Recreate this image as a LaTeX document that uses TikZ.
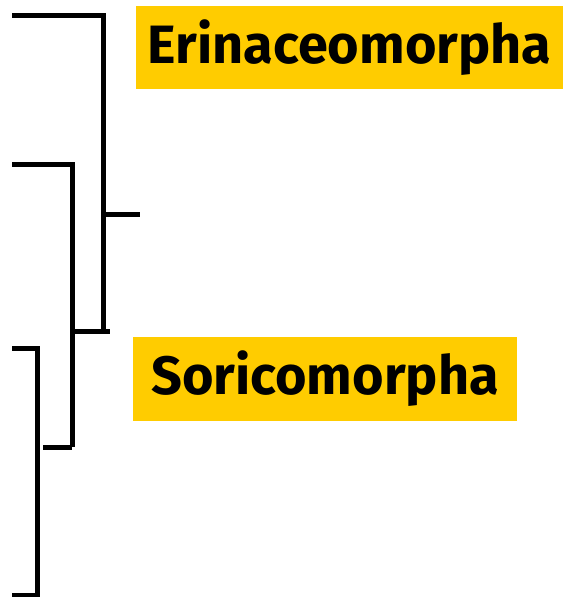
\documentclass[tikz,border=0pt]{standalone}
\usepackage{fontspec}
\setmainfont{Fira Sans}
\usepackage{tikz}
\usetikzlibrary{positioning}
\definecolor{taxonyellow}{HTML}{FFCC00}

\begin{document}
\begin{tikzpicture}[x=1pt,y=-1pt]
		\tikzset{
			taxon/.style={fill=taxonyellow,text=black,inner sep=0pt,font=\fontsize{54}{60}\selectfont\bfseries},
		}
		\tikzset{
			branch/.style={color=black,line width=5pt},
		}
		\useasboundingbox (0,0) rectangle (563,597);
		
		\node[taxon,minimum width=427pt,minimum height=83pt] (erin) at (349.5,47.5) {Erinaceomorpha};
		\node[taxon,minimum width=384pt,minimum height=84pt] (soric) at (325,379) {Soricomorpha};
		
		\coordinate (a1) at (12,15);
		\coordinate (a2) at (103,15);
		\coordinate (a3) at (103,331);
		\coordinate (am) at (103,214);
		\coordinate (at) at (140,214);
		
		\coordinate (b1) at (12,164);
		\coordinate (b2) at (72,164);
		\coordinate (b3) at (72,447);
		\coordinate (bm) at (72,331);
		\coordinate (bt) at (110,331);
		
		\coordinate (c1) at (12,348);
		\coordinate (c2) at (37,348);
		\coordinate (c3) at (37,595);
		\coordinate (c4) at (12,595);
		\coordinate (cm) at (43,447);
		
		\draw[branch] (a1) -- (a2) -- (a3);
		\draw[branch] (am) -- (at);
		\draw[branch] (b1) -- (b2) -- (b3);
		\draw[branch] (bm) -- (bt);
		\draw[branch] (c1) -- (c2) -- (c3) -- (c4);
		\draw[branch] (cm) -- (b3);
	\end{tikzpicture}
\end{document}
